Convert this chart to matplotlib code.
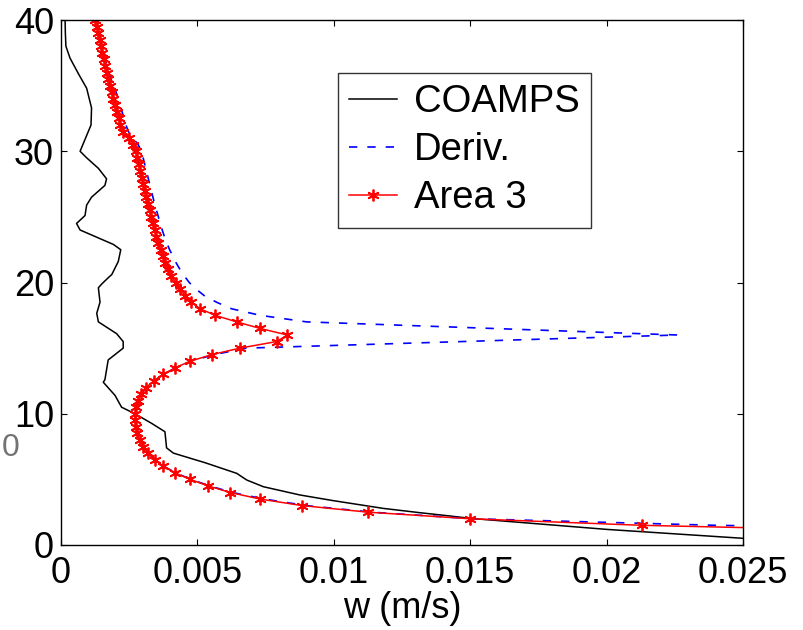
import numpy as np
import matplotlib.pyplot as plt

plt.rcParams['font.family'] = ['Liberation Sans', 'DejaVu Sans']

# COAMPS profile (w in m/s, height)
coamps_z = [40.0, 39.0, 38.0, 37.1, 35.9, 34.8, 33.3, 32.0, 31.2, 30.5, 30.0,
            29.5, 28.7, 27.9, 27.4, 26.5, 25.9, 25.1, 24.5, 24.0, 22.9, 22.5,
            21.6, 20.6, 20.4, 19.9, 19.6, 18.5, 17.65, 17.0, 16.1, 15.5, 15.0,
            14.1, 12.6, 12.4, 11.4, 10.5, 10.0, 9.27, 8.63, 7.4, 7.0, 6.27,
            5.97, 5.46, 4.95, 4.44, 3.81, 3.38, 2.79, 2.46, 2.21, 2.03, 1.19, 0.51]
coamps_w = [0.00015, 0.00016, 0.00018, 0.00033, 0.00064, 0.00094, 0.00112,
            0.00110, 0.00094, 0.00080, 0.00070, 0.00094, 0.00137, 0.00167,
            0.00161, 0.00112, 0.00094, 0.00088, 0.00057, 0.00070, 0.00192,
            0.00219, 0.00210, 0.00186, 0.00175, 0.00150, 0.00137, 0.00143,
            0.00131, 0.00137, 0.00204, 0.00228, 0.00228, 0.00173, 0.00161,
            0.00155, 0.00198, 0.00222, 0.00271, 0.00332, 0.00381, 0.00387,
            0.00412, 0.00528, 0.00571, 0.00644, 0.00681, 0.00742, 0.00876,
            0.00998, 0.01181, 0.01316, 0.01426, 0.01500, 0.02000, 0.02500]

# model levels for the Deriv. and Area 3 profiles
z_levels = [40.0, 39.5, 39.0, 38.5, 38.0, 37.5, 37.0, 36.5, 36.0, 35.5, 35.0,
            34.5, 34.0, 33.5, 33.0, 32.5, 32.0, 31.5, 31.0, 30.5, 30.0, 29.5,
            29.0, 28.5, 28.0, 27.5, 27.0, 26.5, 26.0, 25.5, 25.0, 24.5, 24.0,
            23.5, 23.0, 22.5, 22.0, 21.5, 21.0, 20.5, 20.0, 19.5, 19.0, 18.5,
            18.0, 17.5, 17.0, 16.5, 16.0, 15.5, 15.0, 14.5, 14.0, 13.5, 13.0,
            12.5, 12.0, 11.5, 11.0, 10.5, 10.0, 9.5, 9.0, 8.5, 8.0, 7.5, 7.0,
            6.5, 6.0, 5.5, 5.0, 4.5, 4.0, 3.5, 3.0, 2.5, 2.0, 1.5, 1.0]

deriv_w = [0.00125, 0.00131, 0.00137, 0.00143, 0.00149, 0.00155, 0.00162,
           0.00169, 0.00176, 0.00183, 0.00192, 0.00202, 0.00210, 0.00217,
           0.00224, 0.00231, 0.00238, 0.00247, 0.00264, 0.00283, 0.00295,
           0.00301, 0.00307, 0.00313, 0.00319, 0.00325, 0.00331, 0.00337,
           0.00343, 0.00350, 0.00357, 0.00364, 0.00371, 0.00379, 0.00388,
           0.00398, 0.00410, 0.00422, 0.00436, 0.00452, 0.00470, 0.00495,
           0.00525, 0.00570, 0.00625, 0.00730, 0.00900, 0.01580, 0.02260,
           0.01470, 0.00680, 0.00560, 0.00476, 0.00420, 0.00377, 0.00341,
           0.00313, 0.00294, 0.00283, 0.00277, 0.00274, 0.00274, 0.00276,
           0.00281, 0.00291, 0.00303, 0.00319, 0.00346, 0.00377, 0.00420,
           0.00476, 0.00545, 0.00628, 0.00745, 0.00900, 0.01140, 0.01510,
           0.02400, 0.04000]

area3_w = [0.00125, 0.00131, 0.00137, 0.00142, 0.00147, 0.00152, 0.00157,
           0.00163, 0.00168, 0.00174, 0.00179, 0.00186, 0.00192, 0.00198,
           0.00204, 0.00211, 0.00218, 0.00228, 0.00250, 0.00265, 0.00275,
           0.00280, 0.00285, 0.00290, 0.00296, 0.00302, 0.00307, 0.00312,
           0.00318, 0.00325, 0.00330, 0.00336, 0.00343, 0.00350, 0.00357,
           0.00365, 0.00373, 0.00383, 0.00393, 0.00405, 0.00420, 0.00437,
           0.00455, 0.00478, 0.00510, 0.00565, 0.00644, 0.00730, 0.00830,
           0.00790, 0.00656, 0.00552, 0.00473, 0.00418, 0.00375, 0.00340,
           0.00312, 0.00293, 0.00282, 0.00276, 0.00273, 0.00273, 0.00275,
           0.00280, 0.00290, 0.00302, 0.00318, 0.00345, 0.00375, 0.00418,
           0.00473, 0.00540, 0.00620, 0.00730, 0.00885, 0.01126, 0.01500,
           0.02130, 0.03200]

x_ticks = [0, 0.005, 0.01, 0.015, 0.02, 0.025]
x_tick_labels = ['0', '0.005', '0.01', '0.015', '0.02', '0.025']
y_ticks = [0, 10, 20, 30, 40]

fig = plt.figure(figsize=(8.04, 6.3), dpi=100)
ax = fig.add_axes([61 / 804, 85 / 630, 682 / 804, 525 / 630])

ax.plot(coamps_w, coamps_z, color='black', lw=1.1, label='COAMPS')
ax.plot(deriv_w, z_levels, color='blue', lw=1.2, linestyle=(0, (5, 6)),
        label='Deriv.')
ax.plot(area3_w, z_levels, color='red', lw=1.1, marker=(6, 2, 0),
        markersize=8.5, markeredgewidth=1.3, label='Area 3')

ax.set_xlim(0, 0.025)
ax.set_ylim(0, 40)
ax.set_xticks(x_ticks)
ax.set_xticklabels(x_tick_labels)
ax.set_yticks(y_ticks)
ax.tick_params(direction='in', length=4.5, width=0.8, labelsize=26,
               top=True, right=True)
ax.tick_params(axis='x', pad=8)
ax.tick_params(axis='y', pad=5)
for s in ax.spines.values():
    s.set_linewidth(1.0)
ax.set_xlabel('w (m/s)', fontsize=26, labelpad=0)

leg = ax.legend(loc='upper left', bbox_to_anchor=(0.406, 0.9), fontsize=27.5,
                frameon=True, fancybox=False, numpoints=1, handlelength=1.25,
                handletextpad=0.45, labelspacing=0.32, borderpad=0.3,
                borderaxespad=0)
leg.get_frame().set_edgecolor('black')
leg.get_frame().set_linewidth(1.0)

# faint label fragment at the left edge
fig.text(0.002, 0.289, '0', fontsize=23, color='0.45', ha='left', va='center')

fig.savefig('out.png', dpi=100)
